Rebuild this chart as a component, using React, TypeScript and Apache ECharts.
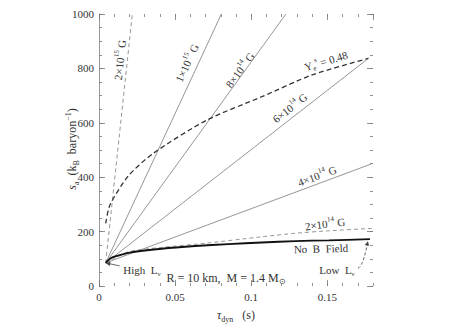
import React, { useEffect, useRef } from "react";
import * as echarts from "echarts";

// ---- data ----
const X_MIN = 0;
const X_MAX = 0.18;
const Y_MIN = 0;
const Y_MAX = 1000;
const X_MAJOR = 0.05;
const X_MINOR = 0.01;
const Y_MAJOR = 200;
const Y_MINOR = 50;

const startPoint = [0.0044, 85];
const field2e15 = [[0.0044, 85], [0.0219, 1000]];
const field1e15 = [[0.0044, 85], [0.0804, 1000]];
const field8e14 = [[0.0044, 85], [0.1228, 1000]];
const field6e14 = [[0.0044, 85], [0.177, 837]];
const field4e14 = [[0.0044, 85], [0.18, 451]];
const field2e14 = [
  [0.0044, 85], [0.0193, 126], [0.0412, 142], [0.0697, 157],
  [0.107, 181], [0.129, 194], [0.151, 203], [0.18, 212],
];
const noField = [
  [0.0044, 85], [0.0077, 102], [0.0121, 111], [0.0193, 122], [0.0412, 137],
  [0.0632, 147], [0.085, 154], [0.107, 160], [0.129, 165], [0.151, 168], [0.178, 172],
];
const yeFixed = [
  [0.0044, 230], [0.0072, 298], [0.0193, 405], [0.0357, 488],
  [0.0708, 610], [0.107, 696], [0.14, 776], [0.177, 837],
];

// ---- style ----
const FONT = '"Liberation Serif", "Times New Roman", serif';
const TXT = "#333";
const GRAY = "#8a8a8a";
const TICK = "#777";

const mkRich = (size: number) => ({
  sup: { fontSize: Math.round(size * 0.68), verticalAlign: "top", lineHeight: size + 4, fontFamily: FONT, fill: TXT },
  sub: { fontSize: Math.round(size * 0.68), verticalAlign: "bottom", lineHeight: size + 4, fontFamily: FONT, fill: TXT },
  it: { fontStyle: "italic", fontSize: size, lineHeight: size + 4, fontFamily: FONT, fill: TXT },
});

const lbl = (text: string, x: number, y: number, deg: number, size = 11) => ({
  type: "text",
  x,
  y,
  rotation: (deg * Math.PI) / 180,
  silent: true,
  style: {
    text,
    fontSize: size,
    lineHeight: size + 4,
    fontFamily: FONT,
    fill: TXT,
    align: "center",
    verticalAlign: "middle",
    rich: mkRich(size),
  },
});

const fmtX = (v: number) => {
  const r = v / X_MAJOR;
  if (Math.abs(r - Math.round(r)) > 1e-6) return "";
  return String(+v.toFixed(2));
};

const lineSeries = (name: string, data: number[][], color: string, width: number, type: any, smooth: any = false) => ({
  name,
  type: "line",
  data,
  xAxisIndex: 0,
  yAxisIndex: 0,
  showSymbol: false,
  symbol: "none",
  smooth,
  silent: true,
  lineStyle: { color, width, type },
  z: 3,
});

const xBase = (pos: "bottom" | "top", minor: boolean) => ({
  type: "value",
  position: pos,
  min: X_MIN,
  max: X_MAX,
  interval: minor ? X_MINOR : X_MAJOR,
  axisLine: { show: false, onZero: false },
  axisTick: { show: true, inside: true, length: minor ? 3 : 6, lineStyle: { color: TICK, width: 0.8 } },
  axisLabel:
    !minor && pos === "bottom"
      ? { show: true, inside: false, formatter: fmtX, margin: 5, fontSize: 11, fontFamily: FONT, color: TXT, showMaxLabel: false }
      : { show: false },
  splitLine: { show: false },
});

const yBase = (pos: "left" | "right", minor: boolean) => ({
  type: "value",
  position: pos,
  min: Y_MIN,
  max: Y_MAX,
  interval: minor ? Y_MINOR : Y_MAJOR,
  axisLine: pos === "left" && !minor ? { show: true, onZero: false, lineStyle: { color: "#999", width: 1 } } : { show: false, onZero: false },
  axisTick: { show: true, inside: true, length: minor ? 3 : 6, lineStyle: { color: TICK, width: 0.8 } },
  axisLabel:
    !minor && pos === "left"
      ? { show: true, inside: false, formatter: (v: number) => String(v), margin: 5, fontSize: 11, fontFamily: FONT, color: TXT }
      : { show: false },
  splitLine: { show: false },
});

export default function App() {
  const ref = useRef<HTMLDivElement>(null);
  useEffect(() => {
    if (!ref.current) return;
    const chart = echarts.init(ref.current, null, { renderer: "svg" });
    chart.setOption({
      animation: false,
      backgroundColor: "#fff",
      grid: { left: 99, right: 95, top: 14, bottom: 45, containLabel: false },
      xAxis: [xBase("bottom", false), xBase("bottom", true), xBase("top", false), xBase("top", true)],
      yAxis: [yBase("left", false), yBase("left", true), yBase("right", false), yBase("right", true)],
      series: [
        lineSeries("2e15", field2e15, GRAY, 0.9, [4, 3]),
        lineSeries("1e15", field1e15, GRAY, 0.9, "solid"),
        lineSeries("8e14", field8e14, GRAY, 0.9, "solid"),
        lineSeries("6e14", field6e14, GRAY, 0.9, "solid"),
        lineSeries("4e14", field4e14, GRAY, 0.9, "solid"),
        lineSeries("2e14", field2e14, GRAY, 0.9, [4, 3], 0.2),
        lineSeries("Ye", yeFixed, "#333", 1.3, [5, 3], 0.25),
        lineSeries("noB", noField, "#111", 1.8, "solid", 0.25),
      ],
    });

    const p = (d: number[]) => chart.convertToPixel({ xAxisIndex: 0, yAxisIndex: 0 }, d) as number[];
    const head = (tip: number[], from: number[], size = 4) => {
      const a = Math.atan2(tip[1] - from[1], tip[0] - from[0]);
      const w = 0.45;
      return {
        type: "polygon",
        silent: true,
        shape: {
          points: [
            tip,
            [tip[0] - size * Math.cos(a - w), tip[1] - size * Math.sin(a - w)],
            [tip[0] - size * Math.cos(a + w), tip[1] - size * Math.sin(a + w)],
          ],
        },
        style: { fill: "#444" },
      };
    };

    const hiTip = p(startPoint);
    const hiTail = [hiTip[0] + 14, hiTip[1] + 3];
    const loEnd = p(noField[noField.length - 1]);
    const loTip = [loEnd[0] - 2, loEnd[1] + 2];
    const loTail = [loTip[0] - 10, loTip[1] + 27];
    const loC1 = [loTail[0] + 5, loTail[1] - 2];
    const loC2 = [loTip[0] - 3, loTip[1] + 12];

    chart.setOption({
      graphic: [
        lbl("2×10{sup|15} G", 120, 60, 84),
        lbl("1×10{sup|15} G", 187, 63, 65),
        lbl("8×10{sup|14} G", 240, 70, 54),
        lbl("Y{sub|e}{sup|s} = 0.48", 326, 61, 17),
        lbl("6×10{sup|14} G", 290, 108, 38),
        lbl("4×10{sup|14} G", 317, 176, 20),
        lbl("2×10{sup|14} G", 325, 224, 7),
        lbl("No  B  Field", 321, 248.5, 1.5),
        lbl("High  L{sub|ν}", 142, 269.5, 0),
        lbl("Low  L{sub|ν}", 337, 269.5, 0),
        lbl("R = 10 km,  M = 1.4 M{sub|⊙}", 226, 277.5, 0, 12),
        lbl("{it|s}{sub|a}  (k{sub|B}  baryon{sup|−1})", 72, 149, 90, 12),
        lbl("{it|τ}{sub|dyn}   (s)", 236, 315, 0, 12),
        {
          type: "line",
          silent: true,
          shape: { x1: hiTail[0], y1: hiTail[1], x2: hiTip[0] + 2, y2: hiTip[1] + 0.5 },
          style: { stroke: "#444", lineWidth: 0.8 },
        },
        head(hiTip, hiTail, 5),
        {
          type: "bezierCurve",
          silent: true,
          shape: {
            x1: loTail[0], y1: loTail[1],
            cpx1: loC1[0], cpy1: loC1[1],
            cpx2: loC2[0], cpy2: loC2[1],
            x2: loTip[0], y2: loTip[1] + 2,
          },
          style: { stroke: "#444", lineWidth: 0.8, fill: null, lineDash: [3, 2] },
        },
        head(loTip, loC2, 5),
      ],
    });
    return () => chart.dispose();
  }, []);
  return <div ref={ref} style={{ position: "fixed", left: 0, top: 0, width: 468, height: 331 }} />;
}
